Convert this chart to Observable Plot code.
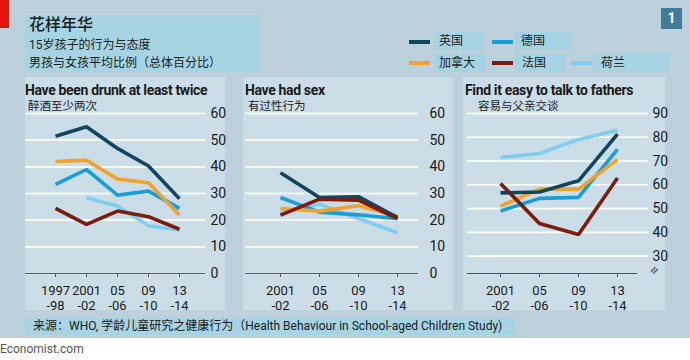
<!DOCTYPE html>
<html><head><meta charset="utf-8">
<script src="https://cdn.jsdelivr.net/npm/d3@7"></script>
<script src="https://cdn.jsdelivr.net/npm/@observablehq/plot@0.6"></script>
<style>
body{margin:0;}
#root{position:relative;width:690px;height:360px;background:#fff;font-family:Roboto,"Noto Sans CJK SC",sans-serif;overflow:hidden;color:#1a1a1a;}
.abs{position:absolute;white-space:nowrap;}
.cn{font-family:"Noto Sans CJK SC",sans-serif;}
</style></head><body><div id="root"></div>
<script>
// ---- data ----
const countries = ["英国","德国","加拿大","法国","荷兰"];
const countryColors = ["#0f4662","#1a9dd9","#f0a22b","#7a1c10","#7fcdf0"];
const drunkPeriods = ["1997\n-98","2001\n-02","05\n-06","09\n-10","13\n-14"];
const laterPeriods = ["2001\n-02","05\n-06","09\n-10","13\n-14"];
const drunkUK = [51.5,55,46.9,40.3,28];
const drunkGermany = [33.4,39,29.4,30.9,24.4];
const drunkCanada = [42,42.5,35.4,34,21.9];
const drunkFrance = [24.4,18.4,23.4,21.3,16.6];
const drunkNetherlands = [null,28.4,25.3,17.9,16.3];
const sexUK = [37.8,28.5,28.8,21];
const sexGermany = [28.5,23,22,20.5];
const sexCanada = [24.4,23.4,25.4,21.5];
const sexFrance = [21.9,27.9,27.5,20.6];
const sexNetherlands = [22.8,26,20.6,15.3];
const fatherUK = [56.6,57,61.7,81.3];
const fatherGermany = [49,54.3,54.7,74.9];
const fatherCanada = [51,58.2,58.2,70.7];
const fatherFrance = [60.6,43.7,39.1,62.9];
const fatherNetherlands = [71.5,73.2,79.1,83];
const pctTicks = [0,10,20,30,40,50,60];
const fatherTicks = [30,40,50,60,70,80,90];
const drawOrder = ["荷兰","德国","加拿大","英国","法国"];

// ---- layout helpers ----
const root = document.getElementById("root");
function box(left, top, w, h, bg){
  const d = document.createElement("div");
  d.className = "abs";
  Object.assign(d.style,{left:left+"px",top:top+"px",width:w+"px",height:h+"px",background:bg});
  root.appendChild(d); return d;
}
function text(left, top, str, css){
  const d = document.createElement("div");
  d.className = "abs";
  d.textContent = str;
  Object.assign(d.style,{left:left+"px",top:top+"px"},css||{});
  root.appendChild(d); return d;
}
const BG = "#bdd1dc", PANEL = "#cbdee7", LIGHT = "#a7d4e3";
box(0,0,690,338,BG);
box(0,0,9,28,"#e3120b");
box(25,15,235,57,LIGHT);
text(29,13,"花样年华",{fontSize:"16px",lineHeight:"20px",fontWeight:"500",fontFamily:'"Noto Sans CJK SC",sans-serif'});
text(29,37,"15岁孩子的行为与态度",{fontSize:"12px",lineHeight:"16px"});
text(29,55,"男孩与女孩平均比例（总体百分比）",{fontSize:"12px",lineHeight:"16px"});
const one = text(661,8,"1",{width:"21px",height:"21px",lineHeight:"21px",textAlign:"center",background:"#417d9b",color:"#fff",fontWeight:"700",fontSize:"14px"});

// legend
const legendLayout = [
  {sx:409, sy:40, bx:434, by:32, bw:50, tx:439},
  {sx:492, sy:40, bx:515, by:32, bw:57, tx:521},
  {sx:409, sy:61, bx:434, by:54, bw:51, tx:439},
  {sx:492, sy:61, bx:515, by:54, bw:50, tx:522},
  {sx:571, sy:61, bx:593, by:54, bw:77, tx:601}
];
countries.forEach((c,i)=>{
  const L = legendLayout[i];
  box(L.sx, L.sy, 21, 4, countryColors[i]);
  box(L.bx, L.by, L.bw, 18, LIGHT);
  text(L.tx, L.by, c, {fontSize:"12px", lineHeight:"18px"});
});

// panels
function panel({periods, values, yDomain, yTicks, left, width, marginRight, xRange, tickPadding, insetRight}){
  const data = [];
  drawOrder.forEach(c=>{
    const i = countries.indexOf(c);
    periods.forEach((p,j)=>data.push({period:p, country:c, value:values[i][j]}));
  });
  const chart = Plot.plot({
    width, height:210, marginTop:13, marginBottom:37, marginLeft:0, marginRight,
    style:{background:"transparent", fontFamily:"Roboto, sans-serif", fontSize:"13px", color:"#1a1a1a", overflow:"visible"},
    x:{type:"point", domain:periods, range:xRange},
    y:{domain:yDomain},
    color:{domain:countries, range:countryColors},
    marks:[
      Plot.gridY(yTicks, {stroke:"#fff", strokeOpacity:1, strokeWidth:1.6}),
      Plot.axisY(yTicks, {anchor:"right", tickSize:0, tickPadding, fontSize:14, label:null, fill:"#1a1a1a"}),
      Plot.ruleY([yDomain[0]], {stroke:"#555", strokeWidth:1, insetRight:insetRight||0}),
      Plot.axisX({tickSize:4, tickPadding:7, stroke:"#555", fill:"#1a1a1a", fontSize:13, lineHeight:1.15, label:null}),
      Plot.line(data, {x:"period", y:"value", z:"country", stroke:"country", strokeWidth:3.6, strokeLinejoin:"miter", strokeLinecap:"butt"})
    ]
  });
  chart.style.position = "absolute";
  chart.style.left = left+"px";
  chart.style.top = "100px";
  return chart;
}
const panels = [
  {bg:[25,200], title:"Have been drunk at least twice", sub:"醉酒至少两次", tx:25, sx:28,
   opts:{periods:drunkPeriods, values:[drunkUK,drunkGermany,drunkCanada,drunkFrance,drunkNetherlands], yDomain:[0,60], yTicks:pctTicks, left:25, width:200, marginRight:20, xRange:[13,171], tickPadding:5}},
  {bg:[243,210], title:"Have had sex", sub:"有过性行为", tx:245, sx:248,
   opts:{periods:laterPeriods, values:[sexUK,sexGermany,sexCanada,sexFrance,sexNetherlands], yDomain:[0,60], yTicks:pctTicks, left:245, width:200, marginRight:27, xRange:[14,172], tickPadding:11}},
  {bg:[463,202], title:"Find it easy to talk to fathers", sub:"容易与父亲交谈", tx:465, sx:478,
   opts:{periods:laterPeriods, values:[fatherUK,fatherGermany,fatherCanada,fatherFrance,fatherNetherlands], yDomain:[22.7,90], yTicks:fatherTicks, left:467, width:200, marginRight:19, xRange:[12,170], tickPadding:4, insetRight:11}}
];
panels.forEach(p=>{
  box(p.bg[0],77,p.bg[1],233,PANEL);
});
panels.forEach(p=>{
  text(p.tx,81,p.title,{fontSize:"14px",lineHeight:"18px",fontWeight:"700",letterSpacing:"-0.35px"});
  text(p.sx,98,p.sub,{fontSize:"11.5px",lineHeight:"16px",color:"#222"});
  root.appendChild(panel(p.opts));
});
// axis break symbol
text(650,262,"≈",{fontSize:"14px",lineHeight:"16px",color:"#444",transform:"rotate(-55deg)"});

// footer
box(25,318,490,17,LIGHT);
text(33,317,"来源：WHO, 学龄儿童研究之健康行为（Health Behaviour in School-aged Children Study)",{fontSize:"12px",lineHeight:"18px"});
text(0,340,"Economist.com",{fontSize:"12px",lineHeight:"18px",color:"#555"});
</script></body></html>
